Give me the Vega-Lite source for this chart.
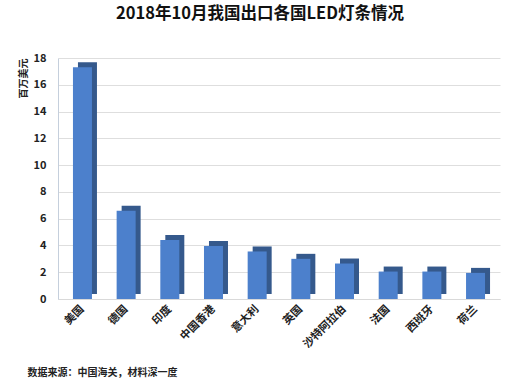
{
  "$schema": "https://vega.github.io/schema/vega-lite/v6.json",
  "width": 442,
  "height": 241,
  "autosize": {"type": "none"},
  "padding": {"left": 58, "top": 58, "right": 20, "bottom": 88},
  "background": "white",
  "config": {
    "font": "Noto Sans CJK SC",
    "view": {"stroke": null}
  },
  "title": {
    "text": "2018年10月我国出口各国LED灯条情况",
    "fontSize": 16.5,
    "fontWeight": "bold",
    "color": "#111111",
    "anchor": "middle",
    "dx": -19,
    "offset": 30,
    "font": "Noto Sans CJK SC"
  },
  "data": {
    "values": [
      {"country": "美国", "value": 17.3},
      {"country": "德国", "value": 6.6},
      {"country": "印度", "value": 4.4},
      {"country": "中国香港", "value": 3.95},
      {"country": "意大利", "value": 3.55},
      {"country": "英国", "value": 3.0},
      {"country": "沙特阿拉伯", "value": 2.65},
      {"country": "法国", "value": 2.05},
      {"country": "西班牙", "value": 2.05},
      {"country": "荷兰", "value": 1.95}
    ]
  },
  "encoding": {
    "x": {
      "field": "country",
      "type": "nominal",
      "sort": null,
      "scale": {"paddingInner": 0.12, "paddingOuter": 0.12},
      "axis": {
        "labelAngle": -45,
        "labelAlign": "right",
        "labelBaseline": "middle",
        "labelPadding": 8,
        "labelFontSize": 11,
        "labelFontWeight": "bold",
        "labelColor": "#222222",
        "ticks": false,
        "domainColor": "#d9d9d9",
        "title": "数据来源：中国海关，材料深一度",
        "titleFontSize": 10,
        "titleFontWeight": "bold",
        "titleColor": "#222222",
        "titleAnchor": "start",
        "titleAlign": "left",
        "titleBaseline": "middle",
        "titleX": -31,
        "titleY": 73
      }
    },
    "y": {
      "field": "value",
      "type": "quantitative",
      "scale": {"domain": [0, 18]},
      "axis": {
        "values": [0, 2, 4, 6, 8, 10, 12, 14, 16, 18],
        "labelFontSize": 11,
        "labelFontWeight": "bold",
        "labelColor": "#222222",
        "labelPadding": 12,
        "ticks": false,
        "domainColor": "#c5cfdc",
        "gridColor": "#dedede",
        "title": "百万美元",
        "titleFontSize": 10,
        "titleFontWeight": "bold",
        "titleColor": "#222222",
        "titleAlign": "right",
        "titleBaseline": "middle",
        "titleX": -35,
        "titleY": 0
      }
    }
  },
  "layer": [
    {
      "mark": {"type": "bar", "width": 19, "xOffset": 5, "yOffset": -5, "color": "#35598c"}
    },
    {
      "mark": {"type": "bar", "width": 19, "color": "#4c80cc"}
    }
  ]
}
